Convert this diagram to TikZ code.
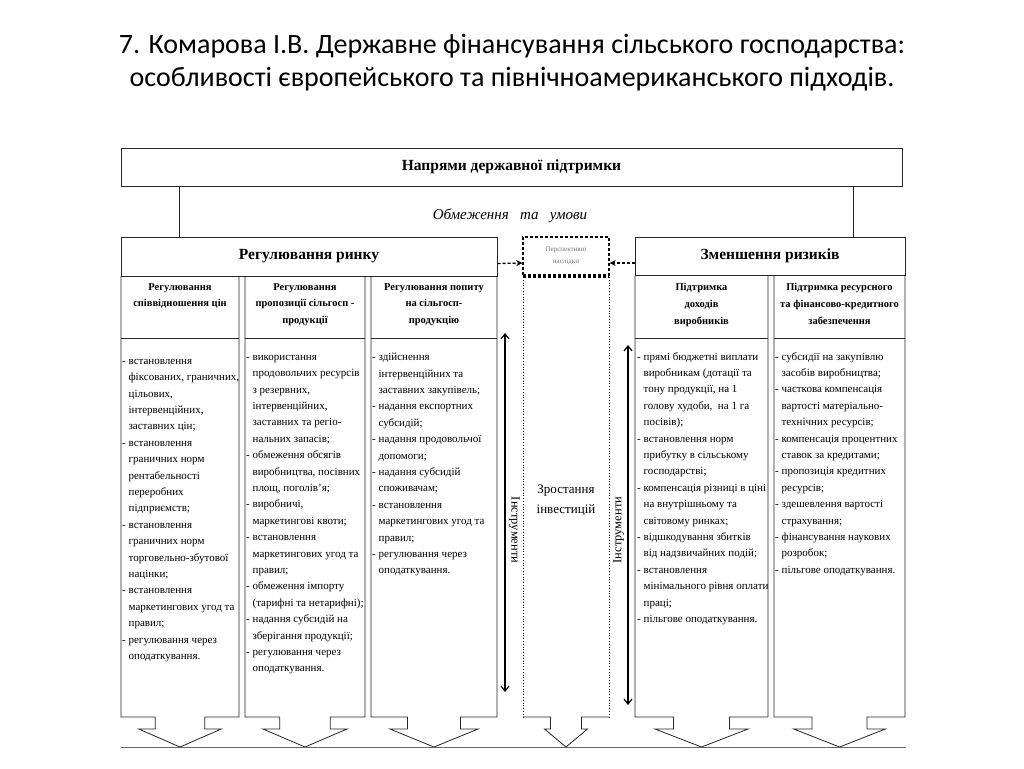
\documentclass[tikz,border=0pt]{standalone}
\usepackage{fontspec}
\setmainfont{Liberation Serif}
\newfontfamily\titlefont{Carlito}
\usetikzlibrary{arrows.meta}
\newcommand{\ind}{\hphantom{-~}}

\begin{document}
\begin{tikzpicture}[x=1pt, y=-1pt, >={Straight Barb[length=5pt, width=8pt]},
    box/.style={draw=black!85, line width=1pt},
    hdr/.style={box, inner sep=0pt, font=\fontsize{15.5}{18}\selectfont\bfseries},
    sub/.style={anchor=north, align=center, inner sep=0pt, font=\fontsize{10.5}{16.8}\selectfont\bfseries},
    txt/.style={anchor=north west, align=left, inner sep=0pt, font=\fontsize{11}{16.4}\selectfont},
    col/.style={draw=black!85, line width=0.8pt},
    dsh/.style={line width=1.3pt, dash pattern=on 3pt off 2pt}]

  \useasboundingbox (0,0) rectangle (1024,768);
  \fill[white] (0,0) rectangle (1024,768);

  % ================= заголовок слайда =================
  \node[align=center, font=\titlefont\fontsize{28}{33}\selectfont] (title) at (512,63)
    {7. Комарова І.В. Державне фінансування сільського господарства:\\
     особливості європейського та північноамериканського підходів.};

  % ================= верхній блок =================
  \node[hdr, minimum width=781pt, minimum height=38pt] (top) at (511.5,167) {Напрями державної підтримки};
  \node[font=\fontsize{15}{18}\selectfont\itshape] (umovy) at (510,216) {Обмеження \ \ та \ \ умови};

  % заголовки двох груп
  \node[hdr, minimum width=376pt, minimum height=39pt] (rr) at (309,256.5) {Регулювання ринку};
  \node[hdr, minimum width=270pt, minimum height=38pt] (zr) at (770,256) {Зменшення ризиків};

  % лінії від верхнього блоку
  \draw[col] ([xshift=59pt]top.south west) -- ([xshift=59pt]top.south west |- rr.north);
  \draw[col] ([xshift=-49pt]top.south east) -- ([xshift=-49pt]top.south east |- zr.north);

  % ================= колонки зі стрілками =================
  \foreach \l/\r in {121/239, 245/365, 371/497, 635/768, 774/905}{
    \pgfmathsetmacro{\cx}{(\l+\r)/2}
    \pgfmathsetmacro{\sw}{0.21*(\r-\l)}
    \pgfmathsetmacro{\hw}{0.35*(\r-\l)}
    \draw[col] (\l,276) -- (\l,717) -- ({\cx-\sw},717) -- ({\cx-\sw},729) -- ({\cx-\hw},729)
      -- (\cx,747) -- ({\cx+\hw},729) -- ({\cx+\sw},729) -- ({\cx+\sw},717) -- (\r,717) -- (\r,276);
    \draw[col] (\l,338) -- (\r,338);
  }

  % підзаголовки колонок
  \node[sub] (c1h) at (180,283) {Регулювання\\співвідношення цін};
  \node[sub] (c2h) at (305,283) {Регулювання\\пропозиції сільгосп -\\продукції};
  \node[sub] (c3h) at (434,283) {Регулювання попиту\\на сільгосп-\\продукцію};
  \node[sub] (c4h) at (701.5,283) {Підтримка\\доходів\\виробників};
  \node[sub] (c5h) at (839.5,283) {Підтримка ресурсного\\та фінансово-кредитного\\забезпечення};

  % ================= середня колонка =================
  \node[dsh, draw, minimum width=86pt, minimum height=38pt, align=center, inner sep=0pt,
    text=black!55, font=\fontsize{7}{12}\selectfont] (pn) at (566,256) {Перспективні\\наслідки};
  \draw[dotted, line width=0.8pt] (523,277) -- (523,717);
  \draw[dotted, line width=0.8pt] (609,277) -- (609,717);
  \draw[col] (523,717) -- (550.5,717) -- (550.5,729) -- (544.5,729) -- (566,747)
    -- (587.5,729) -- (581.5,729) -- (581.5,717) -- (609,717);
  \draw[dsh] (523,277) -- (609,277);
  \node[align=center, font=\fontsize{13}{20}\selectfont] (zi) at (566,500) {Зростання\\інвестицій};

  % пунктирні стрілки до перспективних наслідків
  \draw[dsh, -{Stealth[length=6pt, width=6pt]}] ([yshift=-7pt]rr.east) -- ([yshift=-7pt]pn.west);
  \draw[dsh, -{Stealth[length=6pt, width=6pt]}] ([yshift=-7pt]zr.west) -- ([yshift=-7pt]pn.east);

  % інструменти
  \coordinate (i1t) at (505,333);
  \coordinate (i1b) at (505,692);
  \coordinate (i2t) at (628,345);
  \coordinate (i2b) at (628,705);
  \draw[<->, line width=1.2pt] (i1t) -- (i1b)
    node[pos=0.549, rotate=-90, anchor=south, font=\fontsize{12.5}{15}\selectfont] (ins1) {Інструменти};
  \draw[<->, line width=1.2pt] (i2t) -- (i2b)
    node[pos=0.514, rotate=90, anchor=south, font=\fontsize{12.5}{15}\selectfont] (ins2) {Інструменти};

  % ================= тексти колонок =================
  \node[txt] (c1t) at (122,359) {- встановлення\\ \ind фіксованих, граничних,\\ \ind цільових,\\
    \ind інтервенційних,\\ \ind заставних цін;\\ - встановлення\\ \ind граничних норм\\
    \ind рентабельності\\ \ind переробних\\ \ind підприємств;\\ - встановлення\\
    \ind граничних норм\\ \ind торговельно-збутової\\ \ind націнки;\\ - встановлення\\
    \ind маркетингових угод та\\ \ind правил;\\ - регулювання через\\ \ind оподаткування.};
  \node[txt] (c2t) at (246,355) {- використання\\ \ind продовольчих ресурсів\\ \ind з резервних,\\
    \ind інтервенційних,\\ \ind заставних та регіо-\\ \ind нальних запасів;\\
    - обмеження обсягів\\ \ind виробництва, посівних\\ \ind площ, поголів'я;\\
    - виробничі,\\ \ind маркетингові квоти;\\ - встановлення\\ \ind маркетингових угод та\\
    \ind правил;\\ - обмеження імпорту\\ \ind (тарифні та нетарифні);\\
    - надання субсидій на\\ \ind зберігання продукції;\\ - регулювання через\\ \ind оподаткування.};
  \node[txt] (c3t) at (372,353) {- здійснення\\ \ind інтервенційних та\\ \ind заставних закупівель;\\
    - надання експортних\\ \ind субсидій;\\ - надання продовольчої\\ \ind допомоги;\\
    - надання субсидій\\ \ind споживачам;\\ - встановлення\\ \ind маркетингових угод та\\
    \ind правил;\\ - регулювання через\\ \ind оподаткування.};
  \node[txt] (c4t) at (637,352) {- прямі бюджетні виплати\\ \ind виробникам (дотації та\\
    \ind тону продукції, на 1\\ \ind голову худоби, \ на 1 га\\ \ind посівів);\\
    - встановлення норм\\ \ind прибутку в сільському\\ \ind господарстві;\\
    - компенсація різниці в ціні\\ \ind на внутрішньому та\\ \ind світовому ринках;\\
    - відшкодування збитків\\ \ind від надзвичайних подій;\\ - встановлення\\
    \ind мінімального рівня оплати\\ \ind праці;\\ - пільгове оподаткування.};
  \node[txt] (c5t) at (775,352) {- субсидії на закупівлю\\ \ind засобів виробництва;\\
    - часткова компенсація\\ \ind вартості матеріально-\\ \ind технічних ресурсів;\\
    - компенсація процентних\\ \ind ставок за кредитами;\\ - пропозиція кредитних\\
    \ind ресурсів;\\ - здешевлення вартості\\ \ind страхування;\\
    - фінансування наукових\\ \ind розробок;\\ - пільгове оподаткування.};

  % базова лінія
  \draw[black!60, line width=0.8pt] (121,747) -- (906,747);

\end{tikzpicture}
\end{document}
